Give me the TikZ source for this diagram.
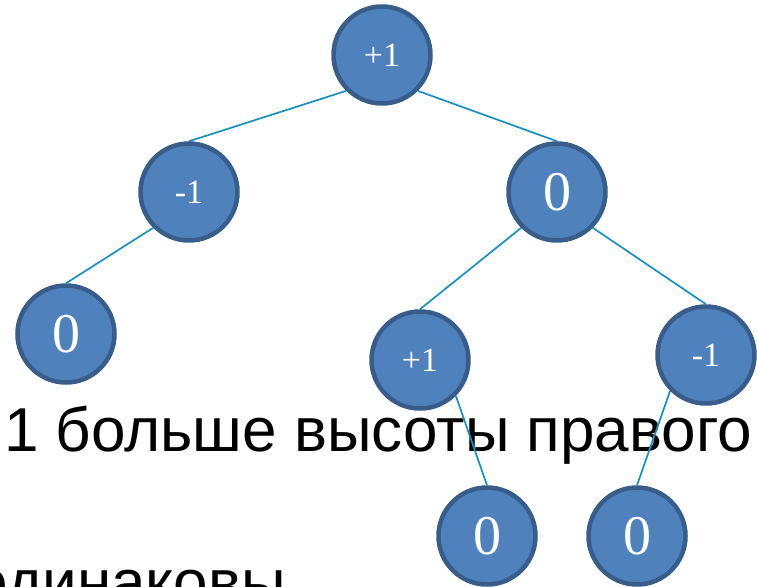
\documentclass[tikz,border=0pt]{standalone}
\usepackage{fontspec}
\setmainfont{Liberation Serif}
\newfontfamily\slidefont{Liberation Sans}
\usetikzlibrary{backgrounds}
\definecolor{nodeblue}{HTML}{4F81BD}
\definecolor{nodering}{HTML}{385D8A}
\definecolor{linkblue}{HTML}{168FC2}

\tikzset{
  balnode/.style={circle, fill=nodeblue, draw=nodering, line width=4.5pt,
    minimum size=97pt, inner sep=0pt, text=white,
    font=\fontsize{34}{34}\selectfont},
  zeronode/.style={balnode, font=\fontsize{56}{56}\selectfont},
  link/.style={linkblue, line width=1.7pt},
  slidetext/.style={anchor=base west, inner sep=0pt,
    font=\slidefont\fontsize{62}{62}\selectfont}
}

\begin{document}
\begin{tikzpicture}[x=1pt, y=-1pt]
  \useasboundingbox (0,0) rectangle (757,586);
  \clip (0,0) rectangle (757,586);

  % AVL tree with balance factors
  \node[balnode]  (root) at (382,55)  {+1};
  \node[balnode]  (l)    at (189,192) {-1};
  \node[zeronode] (r)    at (557,192) {0};
  \node[zeronode] (ll)   at (66,334)  {0};
  \node[balnode]  (rl)   at (420,360) {+1};
  \node[balnode]  (rr)   at (706,355) {-1};
  \node[zeronode] (rlr)  at (487,536) {0};
  \node[zeronode] (rrl)  at (637,536) {0};

  \begin{pgfonlayer}{background}
    % slide text under the tree
    \node[slidetext] (line1) at (4,451)  {1 больше высоты правого};
    \node[slidetext] (line2) at (-27,603) {одинаковы};

    % edges leave the parent at 45 degrees and meet the child at its top
    \draw[link] (root.south west) -- (l.north);
    \draw[link] (root.south east) -- (r.north);
    \draw[link] (l.south west)    -- (ll.north);
    \draw[link] (r.south west)    -- (rl.north);
    \draw[link] (r.south east)    -- (rr.north);
    \draw[link] (rl.south east)   -- (rlr.north);
    \draw[link] (rr.south west)   -- (rrl.north);
  \end{pgfonlayer}
\end{tikzpicture}
\end{document}
